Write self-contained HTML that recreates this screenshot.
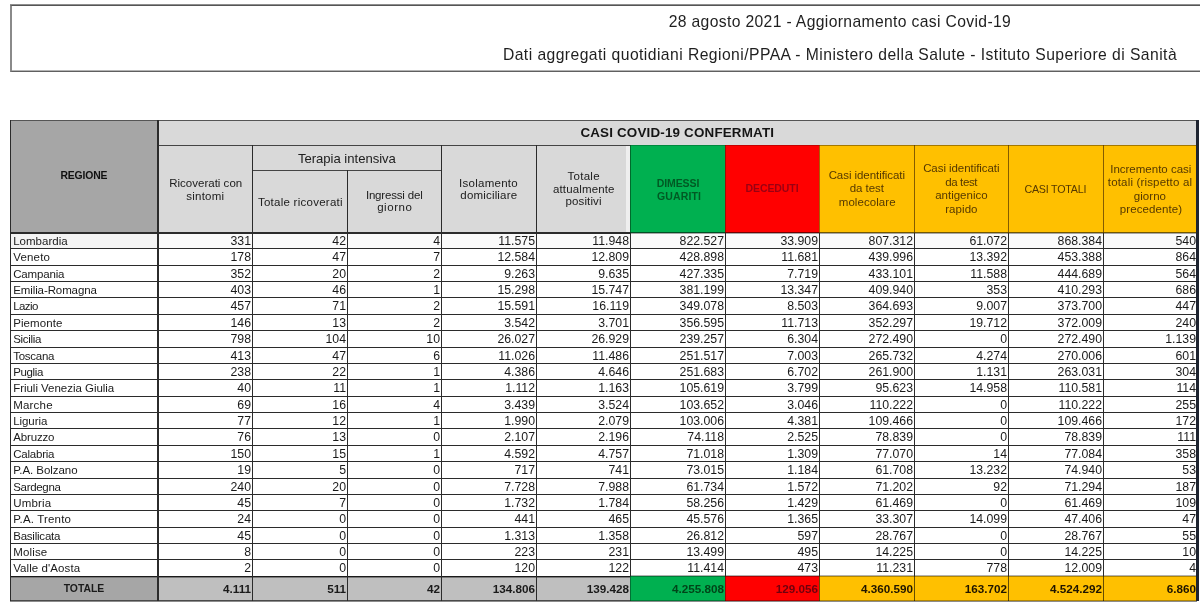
<!DOCTYPE html>
<html lang="it"><head><meta charset="utf-8"><title>Aggiornamento casi Covid-19</title>
<style>
html,body{margin:0;padding:0;background:#fff;}
html{overflow:hidden;}
body{width:1200px;height:610px;position:relative;overflow:hidden;font-family:"Liberation Sans",sans-serif;color:#1a1a1a;}
#page{position:absolute;left:0;top:0;width:1200px;height:610px;overflow:hidden;background:#fff;}
#titlebox{position:absolute;left:10px;top:5px;width:1200px;height:65px;border-top:1px solid #555;border-bottom:1px solid #606060;border-left:2px solid #8a8a8a;box-sizing:content-box;}
.c{position:absolute;box-sizing:border-box;}
.g1{background:#d9d9d9;}
.g2{background:#a6a6a6;}
.g3{background:#bfbfbf;}
.gr{background:#00b050;}
.rd{background:#ff0000;}
.ye{background:#ffc000;}
.x{position:absolute;white-space:nowrap;text-align:center;line-height:14px;height:14px;width:1000px;}
.d{position:absolute;white-space:nowrap;font-size:11.5px;line-height:16px;height:16px;color:#1a1a1a;}
.n{text-align:right;font-size:12.3px;}
.r{text-align:left;}
.t{font-weight:bold;}
.vl{position:absolute;width:1px;background:#2b2b2b;}
.hl{position:absolute;height:1px;background:#2b2b2b;}
</style></head><body><div id="page">

<div id="titlebox"></div>
<div class="hl" style="left:10px;top:4px;width:1190px;background:#8e8e8e;"></div>
<div class="hl" style="left:12px;top:70px;width:1188px;background:#b4b4b4;"></div>
<div class="c g2" style="left:10px;top:120px;width:148px;height:113px;"></div>
<div class="c g1" style="left:158px;top:120px;width:1039px;height:25px;"></div>
<div class="c g1" style="left:158px;top:145px;width:472px;height:88px;"></div>
<div class="c gr" style="left:630px;top:145px;width:95px;height:88px;"></div>
<div class="c rd" style="left:725px;top:145px;width:94px;height:88px;"></div>
<div class="c ye" style="left:819px;top:145px;width:378px;height:88px;"></div>
<div class="c g2" style="left:10px;top:576px;width:148px;height:25px;"></div>
<div class="c g3" style="left:158px;top:576px;width:472px;height:25px;"></div>
<div class="c gr" style="left:630px;top:576px;width:95px;height:25px;"></div>
<div class="c rd" style="left:725px;top:576px;width:94px;height:25px;"></div>
<div class="c ye" style="left:819px;top:576px;width:378px;height:25px;"></div>
<div class="c" style="left:10px;top:234px;width:148px;height:14px;background:#f4f4f4;"></div>
<div class="c" style="left:158px;top:234px;width:1039px;height:14px;background:#fafafa;"></div>
<div class="x" style="left:339.9px;top:14.6px;font-size:15.7px;letter-spacing:0.35px;color:#1f1f1f;">28 agosto 2021 - Aggiornamento casi Covid-19</div>
<div class="x" style="left:340.0px;top:47.6px;font-size:15.7px;letter-spacing:0.44px;color:#1f1f1f;">Dati aggregati quotidiani Regioni/PPAA - Ministero della Salute - Istituto Superiore di Sanità</div>
<div class="x" style="left:-416.1px;top:169.4px;font-size:10.4px;letter-spacing:-0.15px;color:#111;font-weight:bold;">REGIONE</div>
<div class="x" style="left:177.3px;top:125.8px;font-size:13.4px;letter-spacing:0.18px;color:#151515;font-weight:bold;">CASI COVID-19 CONFERMATI</div>
<div class="x" style="left:-294.3px;top:176.0px;font-size:11.5px;letter-spacing:0.01px;color:#202020;">Ricoverati con</div>
<div class="x" style="left:-294.7px;top:188.5px;font-size:11.5px;letter-spacing:0.26px;color:#202020;">sintomi</div>
<div class="x" style="left:-153.1px;top:151.5px;font-size:13.1px;letter-spacing:-0.02px;color:#202020;">Terapia intensiva</div>
<div class="x" style="left:-199.6px;top:195.0px;font-size:11.5px;letter-spacing:0.26px;color:#202020;">Totale ricoverati</div>
<div class="x" style="left:-105.8px;top:187.7px;font-size:11.5px;letter-spacing:-0.18px;color:#202020;">Ingressi del</div>
<div class="x" style="left:-105.2px;top:200.2px;font-size:11.5px;letter-spacing:0.55px;color:#202020;">giorno</div>
<div class="x" style="left:-11.5px;top:175.8px;font-size:11.5px;letter-spacing:0.25px;color:#202020;">Isolamento</div>
<div class="x" style="left:-11.2px;top:188.3px;font-size:11.5px;letter-spacing:0.18px;color:#202020;">domiciliare</div>
<div class="x" style="left:83.7px;top:169.0px;font-size:11.5px;letter-spacing:0.30px;color:#202020;">Totale</div>
<div class="x" style="left:83.8px;top:181.6px;font-size:11.5px;letter-spacing:0.15px;color:#202020;">attualmente</div>
<div class="x" style="left:83.6px;top:194.4px;font-size:11.5px;letter-spacing:0.13px;color:#202020;">positivi</div>
<div class="x" style="left:178.0px;top:176.4px;font-size:10.5px;letter-spacing:-0.08px;color:#005a24;font-weight:bold;">DIMESSI</div>
<div class="x" style="left:179.0px;top:189.4px;font-size:10.5px;letter-spacing:0.12px;color:#005a24;font-weight:bold;">GUARITI</div>
<div class="x" style="left:272.0px;top:181.4px;font-size:10.5px;letter-spacing:-0.08px;color:#9a0012;font-weight:bold;">DECEDUTI</div>
<div class="x" style="left:366.8px;top:168.4px;font-size:11.5px;letter-spacing:-0.06px;color:#553800;">Casi identificati</div>
<div class="x" style="left:366.8px;top:181.4px;font-size:11.5px;letter-spacing:-0.06px;color:#553800;">da test</div>
<div class="x" style="left:367.2px;top:195.2px;font-size:11.5px;letter-spacing:0.06px;color:#553800;">molecolare</div>
<div class="x" style="left:461.3px;top:161.2px;font-size:11.5px;letter-spacing:-0.06px;color:#553800;">Casi identificati</div>
<div class="x" style="left:461.2px;top:174.8px;font-size:11.5px;letter-spacing:-0.37px;color:#553800;">da test</div>
<div class="x" style="left:461.4px;top:188.4px;font-size:11.5px;letter-spacing:0.01px;color:#553800;">antigenico</div>
<div class="x" style="left:461.4px;top:201.8px;font-size:11.5px;letter-spacing:0.07px;color:#553800;">rapido</div>
<div class="x" style="left:555.3px;top:181.5px;font-size:10.7px;letter-spacing:-0.22px;color:#553800;">CASI TOTALI</div>
<div class="x" style="left:650.8px;top:161.5px;font-size:11.5px;letter-spacing:0.00px;color:#553800;">Incremento casi</div>
<div class="x" style="left:650.0px;top:175.0px;font-size:11.5px;letter-spacing:0.17px;color:#553800;">totali (rispetto al</div>
<div class="x" style="left:649.9px;top:188.5px;font-size:11.5px;letter-spacing:0.07px;color:#553800;">giorno</div>
<div class="x" style="left:651.0px;top:201.8px;font-size:11.5px;letter-spacing:0.10px;color:#553800;">precedente)</div>
<div class="d r" style="left:13.2px;top:233px;width:140px;letter-spacing:0.02px;">Lombardia</div>
<div class="d n" style="left:158px;top:233px;width:93px;">331</div>
<div class="d n" style="left:252px;top:233px;width:94px;">42</div>
<div class="d n" style="left:347px;top:233px;width:93px;">4</div>
<div class="d n" style="left:441px;top:233px;width:94px;">11.575</div>
<div class="d n" style="left:536px;top:233px;width:93px;">11.948</div>
<div class="d n" style="left:630px;top:233px;width:94px;">822.527</div>
<div class="d n" style="left:725px;top:233px;width:93px;">33.909</div>
<div class="d n" style="left:819px;top:233px;width:94px;">807.312</div>
<div class="d n" style="left:914px;top:233px;width:93px;">61.072</div>
<div class="d n" style="left:1008px;top:233px;width:94px;">868.384</div>
<div class="d n" style="left:1103px;top:233px;width:93px;">540</div>
<div class="d r" style="left:13.2px;top:249px;width:140px;letter-spacing:0.19px;">Veneto</div>
<div class="d n" style="left:158px;top:249px;width:93px;">178</div>
<div class="d n" style="left:252px;top:249px;width:94px;">47</div>
<div class="d n" style="left:347px;top:249px;width:93px;">7</div>
<div class="d n" style="left:441px;top:249px;width:94px;">12.584</div>
<div class="d n" style="left:536px;top:249px;width:93px;">12.809</div>
<div class="d n" style="left:630px;top:249px;width:94px;">428.898</div>
<div class="d n" style="left:725px;top:249px;width:93px;">11.681</div>
<div class="d n" style="left:819px;top:249px;width:94px;">439.996</div>
<div class="d n" style="left:914px;top:249px;width:93px;">13.392</div>
<div class="d n" style="left:1008px;top:249px;width:94px;">453.388</div>
<div class="d n" style="left:1103px;top:249px;width:93px;">864</div>
<div class="d r" style="left:13.2px;top:266px;width:140px;letter-spacing:-0.17px;">Campania</div>
<div class="d n" style="left:158px;top:266px;width:93px;">352</div>
<div class="d n" style="left:252px;top:266px;width:94px;">20</div>
<div class="d n" style="left:347px;top:266px;width:93px;">2</div>
<div class="d n" style="left:441px;top:266px;width:94px;">9.263</div>
<div class="d n" style="left:536px;top:266px;width:93px;">9.635</div>
<div class="d n" style="left:630px;top:266px;width:94px;">427.335</div>
<div class="d n" style="left:725px;top:266px;width:93px;">7.719</div>
<div class="d n" style="left:819px;top:266px;width:94px;">433.101</div>
<div class="d n" style="left:914px;top:266px;width:93px;">11.588</div>
<div class="d n" style="left:1008px;top:266px;width:94px;">444.689</div>
<div class="d n" style="left:1103px;top:266px;width:93px;">564</div>
<div class="d r" style="left:13.2px;top:282px;width:140px;letter-spacing:-0.10px;">Emilia-Romagna</div>
<div class="d n" style="left:158px;top:282px;width:93px;">403</div>
<div class="d n" style="left:252px;top:282px;width:94px;">46</div>
<div class="d n" style="left:347px;top:282px;width:93px;">1</div>
<div class="d n" style="left:441px;top:282px;width:94px;">15.298</div>
<div class="d n" style="left:536px;top:282px;width:93px;">15.747</div>
<div class="d n" style="left:630px;top:282px;width:94px;">381.199</div>
<div class="d n" style="left:725px;top:282px;width:93px;">13.347</div>
<div class="d n" style="left:819px;top:282px;width:94px;">409.940</div>
<div class="d n" style="left:914px;top:282px;width:93px;">353</div>
<div class="d n" style="left:1008px;top:282px;width:94px;">410.293</div>
<div class="d n" style="left:1103px;top:282px;width:93px;">686</div>
<div class="d r" style="left:13.2px;top:298px;width:140px;letter-spacing:-0.58px;">Lazio</div>
<div class="d n" style="left:158px;top:298px;width:93px;">457</div>
<div class="d n" style="left:252px;top:298px;width:94px;">71</div>
<div class="d n" style="left:347px;top:298px;width:93px;">2</div>
<div class="d n" style="left:441px;top:298px;width:94px;">15.591</div>
<div class="d n" style="left:536px;top:298px;width:93px;">16.119</div>
<div class="d n" style="left:630px;top:298px;width:94px;">349.078</div>
<div class="d n" style="left:725px;top:298px;width:93px;">8.503</div>
<div class="d n" style="left:819px;top:298px;width:94px;">364.693</div>
<div class="d n" style="left:914px;top:298px;width:93px;">9.007</div>
<div class="d n" style="left:1008px;top:298px;width:94px;">373.700</div>
<div class="d n" style="left:1103px;top:298px;width:93px;">447</div>
<div class="d r" style="left:13.2px;top:315px;width:140px;letter-spacing:0.09px;">Piemonte</div>
<div class="d n" style="left:158px;top:315px;width:93px;">146</div>
<div class="d n" style="left:252px;top:315px;width:94px;">13</div>
<div class="d n" style="left:347px;top:315px;width:93px;">2</div>
<div class="d n" style="left:441px;top:315px;width:94px;">3.542</div>
<div class="d n" style="left:536px;top:315px;width:93px;">3.701</div>
<div class="d n" style="left:630px;top:315px;width:94px;">356.595</div>
<div class="d n" style="left:725px;top:315px;width:93px;">11.713</div>
<div class="d n" style="left:819px;top:315px;width:94px;">352.297</div>
<div class="d n" style="left:914px;top:315px;width:93px;">19.712</div>
<div class="d n" style="left:1008px;top:315px;width:94px;">372.009</div>
<div class="d n" style="left:1103px;top:315px;width:93px;">240</div>
<div class="d r" style="left:13.2px;top:331px;width:140px;letter-spacing:-0.31px;">Sicilia</div>
<div class="d n" style="left:158px;top:331px;width:93px;">798</div>
<div class="d n" style="left:252px;top:331px;width:94px;">104</div>
<div class="d n" style="left:347px;top:331px;width:93px;">10</div>
<div class="d n" style="left:441px;top:331px;width:94px;">26.027</div>
<div class="d n" style="left:536px;top:331px;width:93px;">26.929</div>
<div class="d n" style="left:630px;top:331px;width:94px;">239.257</div>
<div class="d n" style="left:725px;top:331px;width:93px;">6.304</div>
<div class="d n" style="left:819px;top:331px;width:94px;">272.490</div>
<div class="d n" style="left:914px;top:331px;width:93px;">0</div>
<div class="d n" style="left:1008px;top:331px;width:94px;">272.490</div>
<div class="d n" style="left:1103px;top:331px;width:93px;">1.139</div>
<div class="d r" style="left:13.2px;top:348px;width:140px;letter-spacing:-0.26px;">Toscana</div>
<div class="d n" style="left:158px;top:348px;width:93px;">413</div>
<div class="d n" style="left:252px;top:348px;width:94px;">47</div>
<div class="d n" style="left:347px;top:348px;width:93px;">6</div>
<div class="d n" style="left:441px;top:348px;width:94px;">11.026</div>
<div class="d n" style="left:536px;top:348px;width:93px;">11.486</div>
<div class="d n" style="left:630px;top:348px;width:94px;">251.517</div>
<div class="d n" style="left:725px;top:348px;width:93px;">7.003</div>
<div class="d n" style="left:819px;top:348px;width:94px;">265.732</div>
<div class="d n" style="left:914px;top:348px;width:93px;">4.274</div>
<div class="d n" style="left:1008px;top:348px;width:94px;">270.006</div>
<div class="d n" style="left:1103px;top:348px;width:93px;">601</div>
<div class="d r" style="left:13.2px;top:364px;width:140px;letter-spacing:-0.37px;">Puglia</div>
<div class="d n" style="left:158px;top:364px;width:93px;">238</div>
<div class="d n" style="left:252px;top:364px;width:94px;">22</div>
<div class="d n" style="left:347px;top:364px;width:93px;">1</div>
<div class="d n" style="left:441px;top:364px;width:94px;">4.386</div>
<div class="d n" style="left:536px;top:364px;width:93px;">4.646</div>
<div class="d n" style="left:630px;top:364px;width:94px;">251.683</div>
<div class="d n" style="left:725px;top:364px;width:93px;">6.702</div>
<div class="d n" style="left:819px;top:364px;width:94px;">261.900</div>
<div class="d n" style="left:914px;top:364px;width:93px;">1.131</div>
<div class="d n" style="left:1008px;top:364px;width:94px;">263.031</div>
<div class="d n" style="left:1103px;top:364px;width:93px;">304</div>
<div class="d r" style="left:13.2px;top:380px;width:140px;letter-spacing:-0.03px;">Friuli Venezia Giulia</div>
<div class="d n" style="left:158px;top:380px;width:93px;">40</div>
<div class="d n" style="left:252px;top:380px;width:94px;">11</div>
<div class="d n" style="left:347px;top:380px;width:93px;">1</div>
<div class="d n" style="left:441px;top:380px;width:94px;">1.112</div>
<div class="d n" style="left:536px;top:380px;width:93px;">1.163</div>
<div class="d n" style="left:630px;top:380px;width:94px;">105.619</div>
<div class="d n" style="left:725px;top:380px;width:93px;">3.799</div>
<div class="d n" style="left:819px;top:380px;width:94px;">95.623</div>
<div class="d n" style="left:914px;top:380px;width:93px;">14.958</div>
<div class="d n" style="left:1008px;top:380px;width:94px;">110.581</div>
<div class="d n" style="left:1103px;top:380px;width:93px;">114</div>
<div class="d r" style="left:13.2px;top:397px;width:140px;letter-spacing:0.21px;">Marche</div>
<div class="d n" style="left:158px;top:397px;width:93px;">69</div>
<div class="d n" style="left:252px;top:397px;width:94px;">16</div>
<div class="d n" style="left:347px;top:397px;width:93px;">4</div>
<div class="d n" style="left:441px;top:397px;width:94px;">3.439</div>
<div class="d n" style="left:536px;top:397px;width:93px;">3.524</div>
<div class="d n" style="left:630px;top:397px;width:94px;">103.652</div>
<div class="d n" style="left:725px;top:397px;width:93px;">3.046</div>
<div class="d n" style="left:819px;top:397px;width:94px;">110.222</div>
<div class="d n" style="left:914px;top:397px;width:93px;">0</div>
<div class="d n" style="left:1008px;top:397px;width:94px;">110.222</div>
<div class="d n" style="left:1103px;top:397px;width:93px;">255</div>
<div class="d r" style="left:13.2px;top:413px;width:140px;letter-spacing:-0.07px;">Liguria</div>
<div class="d n" style="left:158px;top:413px;width:93px;">77</div>
<div class="d n" style="left:252px;top:413px;width:94px;">12</div>
<div class="d n" style="left:347px;top:413px;width:93px;">1</div>
<div class="d n" style="left:441px;top:413px;width:94px;">1.990</div>
<div class="d n" style="left:536px;top:413px;width:93px;">2.079</div>
<div class="d n" style="left:630px;top:413px;width:94px;">103.006</div>
<div class="d n" style="left:725px;top:413px;width:93px;">4.381</div>
<div class="d n" style="left:819px;top:413px;width:94px;">109.466</div>
<div class="d n" style="left:914px;top:413px;width:93px;">0</div>
<div class="d n" style="left:1008px;top:413px;width:94px;">109.466</div>
<div class="d n" style="left:1103px;top:413px;width:93px;">172</div>
<div class="d r" style="left:13.2px;top:429px;width:140px;letter-spacing:-0.15px;">Abruzzo</div>
<div class="d n" style="left:158px;top:429px;width:93px;">76</div>
<div class="d n" style="left:252px;top:429px;width:94px;">13</div>
<div class="d n" style="left:347px;top:429px;width:93px;">0</div>
<div class="d n" style="left:441px;top:429px;width:94px;">2.107</div>
<div class="d n" style="left:536px;top:429px;width:93px;">2.196</div>
<div class="d n" style="left:630px;top:429px;width:94px;">74.118</div>
<div class="d n" style="left:725px;top:429px;width:93px;">2.525</div>
<div class="d n" style="left:819px;top:429px;width:94px;">78.839</div>
<div class="d n" style="left:914px;top:429px;width:93px;">0</div>
<div class="d n" style="left:1008px;top:429px;width:94px;">78.839</div>
<div class="d n" style="left:1103px;top:429px;width:93px;">111</div>
<div class="d r" style="left:13.2px;top:446px;width:140px;letter-spacing:-0.22px;">Calabria</div>
<div class="d n" style="left:158px;top:446px;width:93px;">150</div>
<div class="d n" style="left:252px;top:446px;width:94px;">15</div>
<div class="d n" style="left:347px;top:446px;width:93px;">1</div>
<div class="d n" style="left:441px;top:446px;width:94px;">4.592</div>
<div class="d n" style="left:536px;top:446px;width:93px;">4.757</div>
<div class="d n" style="left:630px;top:446px;width:94px;">71.018</div>
<div class="d n" style="left:725px;top:446px;width:93px;">1.309</div>
<div class="d n" style="left:819px;top:446px;width:94px;">77.070</div>
<div class="d n" style="left:914px;top:446px;width:93px;">14</div>
<div class="d n" style="left:1008px;top:446px;width:94px;">77.084</div>
<div class="d n" style="left:1103px;top:446px;width:93px;">358</div>
<div class="d r" style="left:13.2px;top:462px;width:140px;letter-spacing:-0.06px;">P.A. Bolzano</div>
<div class="d n" style="left:158px;top:462px;width:93px;">19</div>
<div class="d n" style="left:252px;top:462px;width:94px;">5</div>
<div class="d n" style="left:347px;top:462px;width:93px;">0</div>
<div class="d n" style="left:441px;top:462px;width:94px;">717</div>
<div class="d n" style="left:536px;top:462px;width:93px;">741</div>
<div class="d n" style="left:630px;top:462px;width:94px;">73.015</div>
<div class="d n" style="left:725px;top:462px;width:93px;">1.184</div>
<div class="d n" style="left:819px;top:462px;width:94px;">61.708</div>
<div class="d n" style="left:914px;top:462px;width:93px;">13.232</div>
<div class="d n" style="left:1008px;top:462px;width:94px;">74.940</div>
<div class="d n" style="left:1103px;top:462px;width:93px;">53</div>
<div class="d r" style="left:13.2px;top:479px;width:140px;letter-spacing:-0.30px;">Sardegna</div>
<div class="d n" style="left:158px;top:479px;width:93px;">240</div>
<div class="d n" style="left:252px;top:479px;width:94px;">20</div>
<div class="d n" style="left:347px;top:479px;width:93px;">0</div>
<div class="d n" style="left:441px;top:479px;width:94px;">7.728</div>
<div class="d n" style="left:536px;top:479px;width:93px;">7.988</div>
<div class="d n" style="left:630px;top:479px;width:94px;">61.734</div>
<div class="d n" style="left:725px;top:479px;width:93px;">1.572</div>
<div class="d n" style="left:819px;top:479px;width:94px;">71.202</div>
<div class="d n" style="left:914px;top:479px;width:93px;">92</div>
<div class="d n" style="left:1008px;top:479px;width:94px;">71.294</div>
<div class="d n" style="left:1103px;top:479px;width:93px;">187</div>
<div class="d r" style="left:13.2px;top:495px;width:140px;letter-spacing:0.19px;">Umbria</div>
<div class="d n" style="left:158px;top:495px;width:93px;">45</div>
<div class="d n" style="left:252px;top:495px;width:94px;">7</div>
<div class="d n" style="left:347px;top:495px;width:93px;">0</div>
<div class="d n" style="left:441px;top:495px;width:94px;">1.732</div>
<div class="d n" style="left:536px;top:495px;width:93px;">1.784</div>
<div class="d n" style="left:630px;top:495px;width:94px;">58.256</div>
<div class="d n" style="left:725px;top:495px;width:93px;">1.429</div>
<div class="d n" style="left:819px;top:495px;width:94px;">61.469</div>
<div class="d n" style="left:914px;top:495px;width:93px;">0</div>
<div class="d n" style="left:1008px;top:495px;width:94px;">61.469</div>
<div class="d n" style="left:1103px;top:495px;width:93px;">109</div>
<div class="d r" style="left:13.2px;top:511px;width:140px;letter-spacing:0.17px;">P.A. Trento</div>
<div class="d n" style="left:158px;top:511px;width:93px;">24</div>
<div class="d n" style="left:252px;top:511px;width:94px;">0</div>
<div class="d n" style="left:347px;top:511px;width:93px;">0</div>
<div class="d n" style="left:441px;top:511px;width:94px;">441</div>
<div class="d n" style="left:536px;top:511px;width:93px;">465</div>
<div class="d n" style="left:630px;top:511px;width:94px;">45.576</div>
<div class="d n" style="left:725px;top:511px;width:93px;">1.365</div>
<div class="d n" style="left:819px;top:511px;width:94px;">33.307</div>
<div class="d n" style="left:914px;top:511px;width:93px;">14.099</div>
<div class="d n" style="left:1008px;top:511px;width:94px;">47.406</div>
<div class="d n" style="left:1103px;top:511px;width:93px;">47</div>
<div class="d r" style="left:13.2px;top:528px;width:140px;letter-spacing:-0.22px;">Basilicata</div>
<div class="d n" style="left:158px;top:528px;width:93px;">45</div>
<div class="d n" style="left:252px;top:528px;width:94px;">0</div>
<div class="d n" style="left:347px;top:528px;width:93px;">0</div>
<div class="d n" style="left:441px;top:528px;width:94px;">1.313</div>
<div class="d n" style="left:536px;top:528px;width:93px;">1.358</div>
<div class="d n" style="left:630px;top:528px;width:94px;">26.812</div>
<div class="d n" style="left:725px;top:528px;width:93px;">597</div>
<div class="d n" style="left:819px;top:528px;width:94px;">28.767</div>
<div class="d n" style="left:914px;top:528px;width:93px;">0</div>
<div class="d n" style="left:1008px;top:528px;width:94px;">28.767</div>
<div class="d n" style="left:1103px;top:528px;width:93px;">55</div>
<div class="d r" style="left:13.2px;top:544px;width:140px;letter-spacing:0.17px;">Molise</div>
<div class="d n" style="left:158px;top:544px;width:93px;">8</div>
<div class="d n" style="left:252px;top:544px;width:94px;">0</div>
<div class="d n" style="left:347px;top:544px;width:93px;">0</div>
<div class="d n" style="left:441px;top:544px;width:94px;">223</div>
<div class="d n" style="left:536px;top:544px;width:93px;">231</div>
<div class="d n" style="left:630px;top:544px;width:94px;">13.499</div>
<div class="d n" style="left:725px;top:544px;width:93px;">495</div>
<div class="d n" style="left:819px;top:544px;width:94px;">14.225</div>
<div class="d n" style="left:914px;top:544px;width:93px;">0</div>
<div class="d n" style="left:1008px;top:544px;width:94px;">14.225</div>
<div class="d n" style="left:1103px;top:544px;width:93px;">10</div>
<div class="d r" style="left:13.2px;top:560px;width:140px;letter-spacing:0.08px;">Valle d&#x27;Aosta</div>
<div class="d n" style="left:158px;top:560px;width:93px;">2</div>
<div class="d n" style="left:252px;top:560px;width:94px;">0</div>
<div class="d n" style="left:347px;top:560px;width:93px;">0</div>
<div class="d n" style="left:441px;top:560px;width:94px;">120</div>
<div class="d n" style="left:536px;top:560px;width:93px;">122</div>
<div class="d n" style="left:630px;top:560px;width:94px;">11.414</div>
<div class="d n" style="left:725px;top:560px;width:93px;">473</div>
<div class="d n" style="left:819px;top:560px;width:94px;">11.231</div>
<div class="d n" style="left:914px;top:560px;width:93px;">778</div>
<div class="d n" style="left:1008px;top:560px;width:94px;">12.009</div>
<div class="d n" style="left:1103px;top:560px;width:93px;">4</div>
<div class="d t" style="left:10px;top:581px;width:148px;text-align:center;font-size:10.4px;">TOTALE</div>
<div class="d n t" style="left:158px;top:581px;width:93px;font-size:11.7px;">4.111</div>
<div class="d n t" style="left:252px;top:581px;width:94px;font-size:11.7px;">511</div>
<div class="d n t" style="left:347px;top:581px;width:93px;font-size:11.7px;">42</div>
<div class="d n t" style="left:441px;top:581px;width:94px;font-size:11.7px;">134.806</div>
<div class="d n t" style="left:536px;top:581px;width:93px;font-size:11.7px;">139.428</div>
<div class="d n t" style="left:630px;top:581px;width:94px;font-size:11.7px;color:#004519;">4.255.808</div>
<div class="d n t" style="left:725px;top:581px;width:93px;font-size:11.7px;color:#70000d;">129.056</div>
<div class="d n t" style="left:819px;top:581px;width:94px;font-size:11.7px;color:#1f1500;">4.360.590</div>
<div class="d n t" style="left:914px;top:581px;width:93px;font-size:11.7px;color:#1f1500;">163.702</div>
<div class="d n t" style="left:1008px;top:581px;width:94px;font-size:11.7px;color:#1f1500;">4.524.292</div>
<div class="d n t" style="left:1103px;top:581px;width:93px;font-size:11.7px;color:#1f1500;">6.860</div>
<div class="c" style="left:626px;top:146px;width:4px;height:86px;background:#efefef;"></div>
<div class="hl" style="left:10px;top:248px;width:1187px;"></div>
<div class="hl" style="left:10px;top:265px;width:1187px;"></div>
<div class="hl" style="left:10px;top:281px;width:1187px;"></div>
<div class="hl" style="left:10px;top:297px;width:1187px;"></div>
<div class="hl" style="left:10px;top:314px;width:1187px;"></div>
<div class="hl" style="left:10px;top:330px;width:1187px;"></div>
<div class="hl" style="left:10px;top:347px;width:1187px;"></div>
<div class="hl" style="left:10px;top:363px;width:1187px;"></div>
<div class="hl" style="left:10px;top:379px;width:1187px;"></div>
<div class="hl" style="left:10px;top:396px;width:1187px;"></div>
<div class="hl" style="left:10px;top:412px;width:1187px;"></div>
<div class="hl" style="left:10px;top:428px;width:1187px;"></div>
<div class="hl" style="left:10px;top:445px;width:1187px;"></div>
<div class="hl" style="left:10px;top:461px;width:1187px;"></div>
<div class="hl" style="left:10px;top:478px;width:1187px;"></div>
<div class="hl" style="left:10px;top:494px;width:1187px;"></div>
<div class="hl" style="left:10px;top:510px;width:1187px;"></div>
<div class="hl" style="left:10px;top:527px;width:1187px;"></div>
<div class="hl" style="left:10px;top:543px;width:1187px;"></div>
<div class="hl" style="left:10px;top:559px;width:1187px;"></div>
<div class="hl" style="left:10px;top:232px;width:620px;height:2px;"></div>
<div class="hl" style="left:630px;top:232px;width:567px;background:rgba(0,0,0,.55);"></div>
<div class="hl" style="left:630px;top:233px;width:567px;background:rgba(0,0,0,.35);"></div>
<div class="hl" style="left:10px;top:577px;width:620px;background:#7a7a7a;"></div>
<div class="hl" style="left:10px;top:576px;width:620px;background:#1a1a1a;"></div>
<div class="hl" style="left:630px;top:575px;width:567px;background:rgba(0,0,0,.3);"></div>
<div class="hl" style="left:630px;top:576px;width:567px;background:rgba(0,0,0,.3);"></div>
<div class="hl" style="left:10px;top:600px;width:620px;background:#4a4a4a;"></div>
<div class="hl" style="left:630px;top:600px;width:567px;background:rgba(0,0,0,.3);"></div>
<div class="hl" style="left:10px;top:601px;width:1187px;background:#8c8c8c;"></div>
<div class="hl" style="left:10px;top:120px;width:1187px;background:#555;"></div>
<div class="hl" style="left:158px;top:145px;width:472px;background:#444;"></div>
<div class="hl" style="left:630px;top:145px;width:189px;background:rgba(0,0,0,.22);"></div>
<div class="hl" style="left:819px;top:145px;width:378px;background:rgba(90,60,0,.55);"></div>
<div class="hl" style="left:252px;top:170px;width:189px;background:#444;"></div>
<div class="vl" style="left:10px;top:120px;height:481px;"></div>
<div class="vl" style="left:157px;top:120px;height:481px;width:2px;"></div>
<div class="vl" style="left:252px;top:145px;height:456px;"></div>
<div class="vl" style="left:347px;top:170px;height:431px;"></div>
<div class="vl" style="left:441px;top:145px;height:456px;"></div>
<div class="vl" style="left:536px;top:145px;height:456px;"></div>
<div class="vl" style="left:630px;top:145px;height:88px;background:rgba(0,60,20,.6);"></div>
<div class="vl" style="left:630px;top:233px;height:343px;"></div>
<div class="vl" style="left:630px;top:576px;height:25px;background:rgba(0,0,0,0.35);"></div>
<div class="vl" style="left:725px;top:145px;height:88px;background:rgba(60,30,0,.5);"></div>
<div class="vl" style="left:725px;top:233px;height:343px;"></div>
<div class="vl" style="left:725px;top:576px;height:25px;background:rgba(0,0,0,0.35);"></div>
<div class="vl" style="left:819px;top:145px;height:88px;background:rgba(110,30,0,.6);"></div>
<div class="vl" style="left:819px;top:233px;height:343px;"></div>
<div class="vl" style="left:819px;top:576px;height:25px;background:rgba(0,0,0,0.6);"></div>
<div class="vl" style="left:914px;top:145px;height:88px;background:rgba(80,50,0,.7);"></div>
<div class="vl" style="left:914px;top:233px;height:343px;"></div>
<div class="vl" style="left:914px;top:576px;height:25px;background:rgba(0,0,0,0.6);"></div>
<div class="vl" style="left:1008px;top:145px;height:88px;background:rgba(80,50,0,.7);"></div>
<div class="vl" style="left:1008px;top:233px;height:343px;"></div>
<div class="vl" style="left:1008px;top:576px;height:25px;background:rgba(0,0,0,0.6);"></div>
<div class="vl" style="left:1103px;top:145px;height:88px;background:rgba(80,50,0,.7);"></div>
<div class="vl" style="left:1103px;top:233px;height:343px;"></div>
<div class="vl" style="left:1103px;top:576px;height:25px;background:rgba(0,0,0,0.6);"></div>
<div class="vl" style="left:1196px;top:120px;height:481px;width:3px;background:#1e2430;"></div>
</div></body></html>
